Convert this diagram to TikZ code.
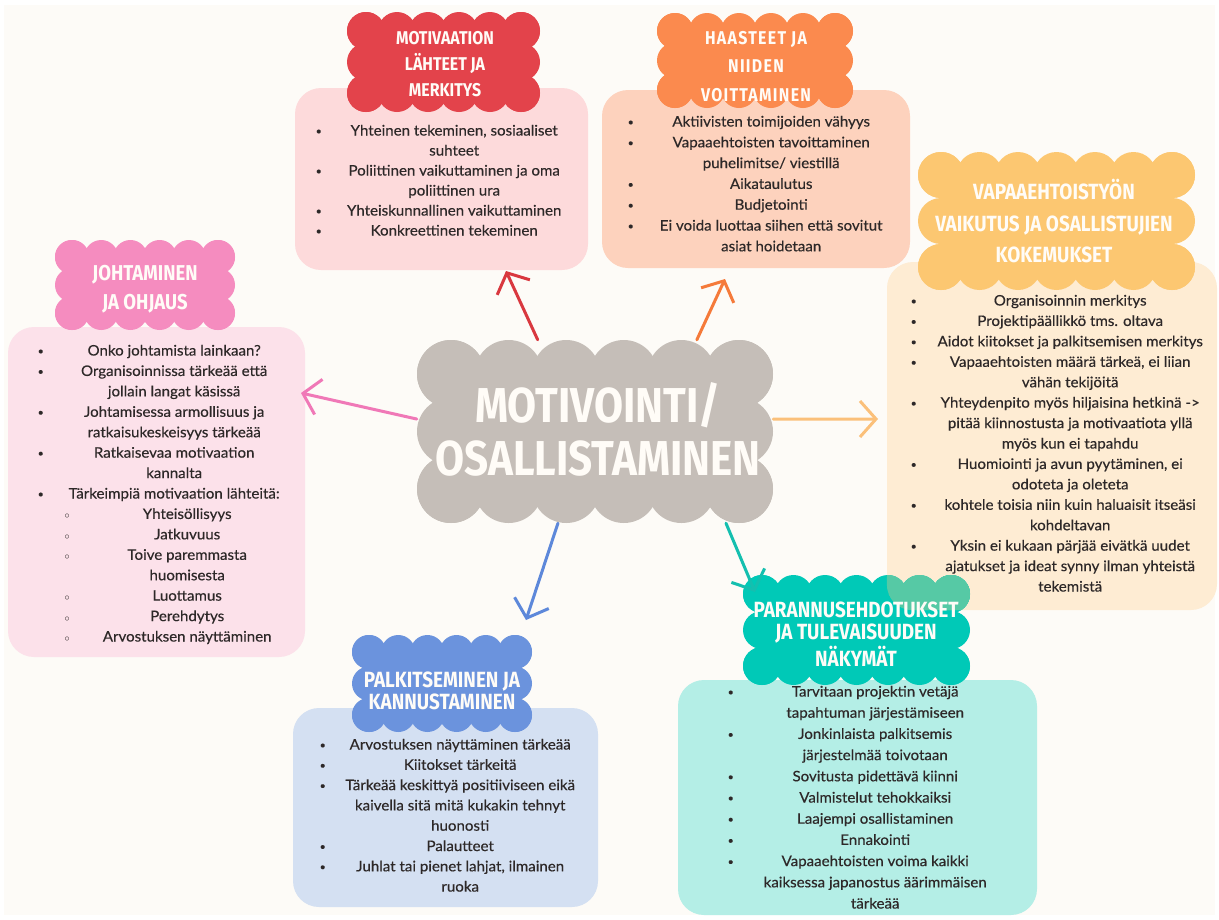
\documentclass[tikz,border=0pt]{standalone}
\usepackage{fontspec}
\setmainfont{Lato}[FakeStretch=1.04, FakeBold=0.4]
\newfontfamily\headfont{Fira Sans}[FakeStretch=0.86]
\usepackage{tikz}
\usetikzlibrary{arrows.meta}
\definecolor{Paper}{RGB}{253, 251, 247}
\definecolor{Ink}{RGB}{45, 40, 40}
\definecolor{Head}{RGB}{255, 252, 247}
\definecolor{Hub}{RGB}{197, 190, 184}
\definecolor{Cloud1}{RGB}{227, 67, 75}
\definecolor{Cloud2}{RGB}{251, 138, 78}
\definecolor{Cloud3}{RGB}{252, 199, 113}
\definecolor{Cloud4}{RGB}{245, 140, 191}
\definecolor{Cloud5}{RGB}{107, 147, 221}
\definecolor{Cloud6}{RGB}{0, 201, 183}
\definecolor{Cloud6mix}{RGB}{86, 201, 165}
\definecolor{Panel1}{RGB}{253, 218, 219}
\definecolor{Panel2}{RGB}{253, 210, 189}
\definecolor{Panel3}{RGB}{254, 236, 211}
\definecolor{Panel4}{RGB}{252, 225, 234}
\definecolor{Panel5}{RGB}{212, 224, 242}
\definecolor{Panel6}{RGB}{180, 238, 230}
\definecolor{Link1}{RGB}{217, 56, 63}
\definecolor{Link2}{RGB}{245, 122, 58}
\definecolor{Link3}{RGB}{251, 192, 122}
\definecolor{Link4}{RGB}{240, 120, 183}
\definecolor{Link5}{RGB}{93, 136, 218}
\definecolor{Link6}{RGB}{20, 191, 175}

\newlength{\txtw}
\newlength{\subw}
\newcommand{\dotmark}{\raisebox{1pt}{\fontsize{10}{10}\selectfont\textbullet}}
\newcommand{\itemline}[1]{\makebox[10pt][l]{\dotmark}\makebox[\txtw][c]{#1}\\}
\newcommand{\contline}[1]{\hspace*{10pt}\makebox[\txtw][c]{#1}\\}
\newcommand{\subline}[1]{\hspace*{27pt}\makebox[10pt][l]{${\scriptstyle\circ}$}\makebox[\subw][c]{#1}\\}
\newcommand{\subcont}[1]{\hspace*{37pt}\makebox[\subw][c]{#1}\\}
\newcommand{\itemlist}[2]{\setlength{\txtw}{#1}\begin{tabular}[t]{@{}l@{}}#2\end{tabular}}
\newcommand{\headlines}[1]{\begin{tabular}[t]{@{}c@{}}#1\end{tabular}}

% scalloped cloud: colour, x1, y1, x2, y2, puff radius
\newcommand{\puff}[6]{%
  \pgfmathsetmacro{\cxa}{#2+#6}\pgfmathsetmacro{\cxb}{#4-#6}%
  \pgfmathsetmacro{\cya}{#3+#6}\pgfmathsetmacro{\cyb}{#5-#6}%
  \pgfmathtruncatemacro{\cnx}{max(1,round((\cxb-\cxa)/(1.8*#6)))}%
  \pgfmathtruncatemacro{\cny}{max(1,round((\cyb-\cya)/(1.8*#6)))}%
  \fill[#1] (\cxa,\cya) rectangle (\cxb,\cyb);
  \foreach \i in {0,...,\cnx}{
    \fill[#1] ({\cxa+\i*(\cxb-\cxa)/\cnx},\cya) circle (#6pt)
              ({\cxa+\i*(\cxb-\cxa)/\cnx},\cyb) circle (#6pt);}
  \foreach \j in {0,...,\cny}{
    \fill[#1] (\cxa,{\cya+\j*(\cyb-\cya)/\cny}) circle (#6pt)
              (\cxb,{\cya+\j*(\cyb-\cya)/\cny}) circle (#6pt);}
}

\begin{document}
\begin{tikzpicture}[x=1pt, y=-1pt,
    panel/.style={rounded corners=26pt, inner sep=0pt, draw=none},
    headline/.style 2 args={font=\headfont\bfseries\fontsize{#1}{#2}\selectfont, text=Head, anchor=base, inner sep=0pt},
    items/.style={font=\fontsize{14.5}{#1}\selectfont, text=Ink, anchor=base west, inner sep=0pt},
    link/.style={line width=3pt, line cap=round, -{Straight Barb[length=16pt, width=36pt]}}]
    %%Background
    \fill[white] (0,0) rectangle (1219,919);
    \fill[Paper] (4,5) rectangle (1215,915);
    \useasboundingbox (0,0) rectangle (1219,919);

    %% Panels
    \node[panel, fill=Panel1, minimum width=293pt, minimum height=182pt] (panelA) at (441.5,179) {};
    \node[panel, fill=Panel2, minimum width=308pt, minimum height=178pt] (panelB) at (756,179) {};
    \node[panel, fill=Panel4, minimum width=297pt, minimum height=330pt] (panelD) at (156.5,492) {};
    \node[panel, fill=Panel5, minimum width=305pt, minimum height=199pt] (panelE) at (445.5,807.5) {};
    \node[panel, fill=Panel6, minimum width=359pt, minimum height=235pt] (panelF) at (857.5,797.5) {};
    \node[panel, fill=Panel3, minimum width=330pt, minimum height=348pt] (panelC) at (1052,436) {};

    %% Clouds
    \puff{Cloud1}{347}{12}{540}{112}{19}
    \puff{Cloud2}{657}{13}{853}{108}{18}
    \puff{Cloud3}{918}{152}{1195}{290}{23}
    \puff{Cloud4}{55}{240}{235}{330}{17}
    \puff{Cloud5}{352}{635}{532}{732}{17}
    \puff{Cloud6}{743}{575}{970}{685}{19}
    \begin{scope}
      \clip[rounded corners=26pt] (panelC.north west) rectangle (panelC.south east);
      \puff{Cloud6mix}{743}{575}{970}{685}{19}
    \end{scope}

    %% Centre and arrows
    \node[inner sep=0pt, minimum width=356pt, minimum height=183pt] (hub) at (595,431.5) {};
    \coordinate (tipA) at (506,271);
    \coordinate (tipB) at (725,279);
    \coordinate (tipC) at (878,419);
    \coordinate (tipD) at (301,393);
    \coordinate (tipE) at (526,620);
    \coordinate (tipF) at (755,592);
    \draw[link, Link1] (hub.122) -- (tipA);
    \draw[link, Link2] (hub.42) -- (tipB);
    \draw[link, Link3] (hub.4) -- (tipC);
    \draw[link, Link4] (hub.176) -- (tipD);
    \draw[link, Link5] (hub.248) -- (tipE);
    \draw[link, Link6] (hub.-35) -- (tipF);
    \puff{Hub}{417}{340}{773}{523}{34}
    \node[headline={49}{52.5}] (hubtitle) at (598,422.7) {\headlines{MOTIVOINTI/\\OSALLISTAMINEN}};

    %% Titles
    \node[headline={18.5}{26}] (titleA) at (445,44.4) {\headlines{MOTIVAATION\\LÄHTEET JA\\MERKITYS}};
    \node[headline={18.5}{28.5}] (titleB) at (756,44.4) {\addfontfeature{LetterSpace=7}\headlines{HAASTEET JA\\NIIDEN\\VOITTAMINEN}};
    \node[headline={22}{31.5}] (titleC) at (1054,199.6) {\headlines{VAPAAEHTOISTYÖN\\VAIKUTUS JA OSALLISTUJIEN\\KOKEMUKSET}};
    \node[headline={21.5}{29}] (titleD) at (145,280.4) {\headlines{JOHTAMINEN\\JA OHJAUS}};
    \node[headline={22}{20}] (titleE) at (442,687.6) {\headlines{PALKITSEMINEN JA\\KANNUSTAMINEN}};
    \node[headline={22}{21}] (titleF) at (856,617.6) {\headlines{PARANNUSEHDOTUKSET\\JA TULEVAISUUDEN\\NÄKYMÄT}};

    %% Lists
    \node[items=20] (listA) at (315.5,135.5) {\itemlist{257pt}{%
      \itemline{Yhteinen tekeminen, sosiaaliset}
      \contline{suhteet}
      \itemline{Poliittinen vaikuttaminen ja oma}
      \contline{poliittinen ura}
      \itemline{Yhteiskunnallinen vaikuttaminen}
      \itemline{Konkreettinen tekeminen}}};
    \node[items=20.8] (listB) at (627.5,126.5) {\itemlist{267pt}{%
      \itemline{Aktiivisten toimijoiden vähyys}
      \itemline{Vapaaehtoisten tavoittaminen}
      \contline{puhelimitse/ viestillä}
      \itemline{Aikataulutus}
      \itemline{Budjetointi}
      \itemline{Ei voida luottaa siihen että sovitut}
      \contline{asiat hoidetaan}}};
    \node[items=20.43] (listC) at (910.5,305.5) {\itemlist{299pt}{%
      \itemline{Organisoinnin merkitys}
      \itemline{Projektipäällikkö tms. oltava}
      \itemline{Aidot kiitokset ja palkitsemisen merkitys}
      \itemline{Vapaaehtoisten määrä tärkeä, ei liian}
      \contline{vähän tekijöitä}
      \itemline{Yhteydenpito myös hiljaisina hetkinä ->}
      \contline{pitää kiinnostusta ja motivaatiota yllä}
      \contline{myös kun ei tapahdu}
      \itemline{Huomiointi ja avun pyytäminen, ei}
      \contline{odoteta ja oleteta}
      \itemline{kohtele toisia niin kuin haluaisit itseäsi}
      \contline{kohdeltavan}
      \itemline{Yksin ei kukaan pärjää eivätkä uudet}
      \contline{ajatukset ja ideat synny ilman yhteistä}
      \contline{tekemistä}}};
    \node[items=20.43] (listD) at (37.5,355.5) {\setlength{\subw}{225pt}\itemlist{253pt}{%
      \itemline{Onko johtamista lainkaan?}
      \itemline{Organisoinnissa tärkeää että}
      \contline{jollain langat käsissä}
      \itemline{Johtamisessa armollisuus ja}
      \contline{ratkaisukeskeisyys tärkeää}
      \itemline{Ratkaisevaa motivaation}
      \contline{kannalta}
      \itemline{Tärkeimpiä motivaation lähteitä:}
      \subline{Yhteisöllisyys}
      \subline{Jatkuvuus}
      \subline{Toive paremmasta}
      \subcont{huomisesta}
      \subline{Luottamus}
      \subline{Perehdytys}
      \subline{Arvostuksen näyttäminen}}};
    \node[items=20.3] (listE) at (319.5,749.5) {\itemlist{261pt}{%
      \itemline{Arvostuksen näyttäminen tärkeää}
      \itemline{Kiitokset tärkeitä}
      \itemline{Tärkeää keskittyä positiiviseen eikä}
      \contline{kaivella sitä mitä kukakin tehnyt}
      \contline{huonosti}
      \itemline{Palautteet}
      \itemline{Juhlat tai pienet lahjat, ilmainen}
      \contline{ruoka}}};
    \node[items=21.2] (listF) at (727.5,696.5) {\itemlist{275pt}{%
      \itemline{Tarvitaan projektin vetäjä}
      \contline{tapahtuman järjestämiseen}
      \itemline{Jonkinlaista palkitsemis}
      \contline{järjestelmää toivotaan}
      \itemline{Sovitusta pidettävä kiinni}
      \itemline{Valmistelut tehokkaiksi}
      \itemline{Laajempi osallistaminen}
      \itemline{Ennakointi}
      \itemline{Vapaaehtoisten voima kaikki}
      \contline{kaiksessa japanostus äärimmäisen}
      \contline{tärkeää}}};
\end{tikzpicture}
\end{document}
